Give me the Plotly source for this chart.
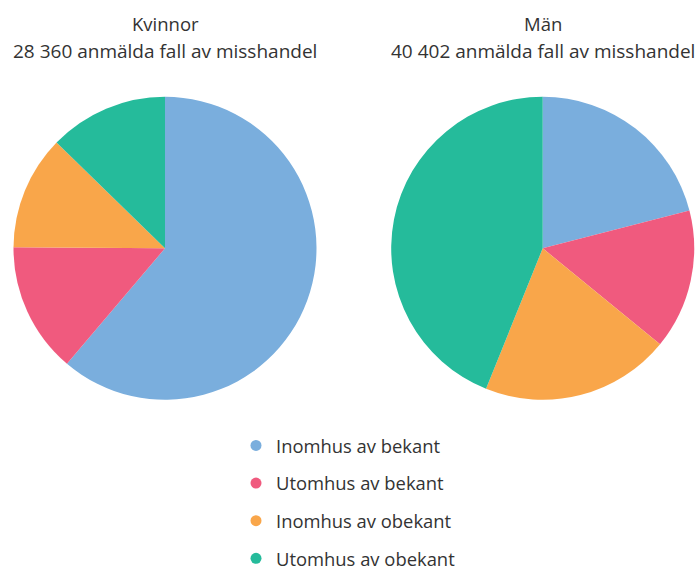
import plotly.graph_objects as go

categories = ["Inomhus av bekant", "Utomhus av bekant", "Inomhus av obekant", "Utomhus av obekant"]
kvinnor_pct = [61.2, 13.9, 12.2, 12.7]
man_pct = [21.0, 14.9, 20.2, 43.9]
colors = ["#7aaedd", "#f05a7e", "#f9a64a", "#25bb9b"]
group_titles = ["Kvinnor", "Män"]
group_subtitles = ["28 360 anmälda fall av misshandel", "40 402 anmälda fall av misshandel"]

W, H = 699, 567
FONT = "Open Sans"
TXT = "#333333"


def px(x):
    return x / W


def py(y):
    return 1 - y / H


fig = go.Figure()

R = 151.5
centers = [(165, 248.3), (542.7, 248.3)]
for vals, (cx, cy) in zip([kvinnor_pct, man_pct], centers):
    fig.add_trace(go.Pie(
        labels=categories, values=vals, sort=False, direction="clockwise",
        rotation=0, textinfo="none", hoverinfo="label+percent",
        marker=dict(colors=colors, line=dict(width=0)),
        domain=dict(x=[px(cx - R), px(cx + R)], y=[py(cy + R), py(cy - R)]),
        showlegend=False,
    ))

for cat, col in zip(categories, colors):
    fig.add_trace(go.Scatter(
        x=[None], y=[None], mode="markers", name=cat, legendgroup=cat,
        marker=dict(symbol="circle", size=11, color=col),
    ))

for t, s, (cx, cy) in zip(group_titles, group_subtitles, centers):
    fig.add_annotation(
        text=t, x=px(cx), y=py(23.5), xref="paper", yref="paper",
        xanchor="center", yanchor="middle", showarrow=False,
        font=dict(family=FONT, size=18.5, color=TXT),
    )
    fig.add_annotation(
        text=s, x=px(cx), y=py(51), xref="paper", yref="paper",
        xanchor="center", yanchor="middle", showarrow=False,
        font=dict(family=FONT, size=19, color=TXT),
    )

fig.update_layout(
    width=W, height=H,
    margin=dict(l=0, r=0, t=0, b=0, autoexpand=False),
    paper_bgcolor="white", plot_bgcolor="white",
    xaxis=dict(visible=False), yaxis=dict(visible=False),
    font=dict(family=FONT, size=18.4, color=TXT),
    legend=dict(
        x=px(236), y=py(427), xanchor="left", yanchor="top",
        orientation="v", traceorder="grouped", tracegroupgap=10.7,
        font=dict(family=FONT, size=18.4, color=TXT),
        bgcolor="rgba(0,0,0,0)",
    ),
)

fig.write_html(
    "out.html",
    config={"displayModeBar": False},
    post_script="document.body.style.margin='0';document.body.style.overflow='hidden';",
)
